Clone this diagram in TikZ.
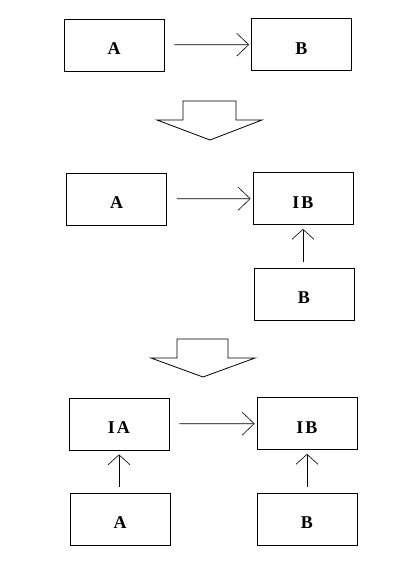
\documentclass[tikz,border=0pt]{standalone}
\usepackage{fontspec}
\setmainfont{Liberation Serif}
\usetikzlibrary{arrows.meta}

\tikzset{
box/.style={draw,line width=0.8pt,minimum width=100pt,minimum height=52pt,inner sep=0pt,
  text height=19pt,text depth=0pt,font=\fontsize{18}{20}\selectfont\bfseries},
link/.style={line width=0.7pt,-{Straight Barb[length=12pt,width=23pt,line width=0.6pt]},
  shorten <=10pt,shorten >=2pt},
uplink/.style={line width=0.7pt,-{Straight Barb[length=10pt,width=22pt,line width=0.6pt]},
  shorten <=6pt,shorten >=4pt},
bigarrow/.style={draw,line width=0.8pt}
}

\begin{document}
\begin{tikzpicture}[x=1pt,y=-1pt]
\useasboundingbox (0,0) rectangle (407,587);

% first row
\node[box] (a1) at (114,45) {A};
\node[box] (b1) at (301.5,44.5) {B};
\draw[link] (a1) -- (b1);

\draw[bigarrow] (183,120) -- (183,101) -- (236,101) -- (236,120) -- (262,120)
  -- (210,140) -- (157,120) -- cycle;

% second row
\node[box] (a2) at (116.5,199) {A};
\node[box] (ib2) at (303,198.5) {I\kern2pt B};
\node[box] (b2) at (304,294) {B};
\draw[link] (a2) -- (ib2);
\draw[uplink] (b2.north -| ib2) -- (ib2);

\draw[bigarrow] (177,358) -- (177,339) -- (228,339) -- (228,358) -- (255,358)
  -- (203,377) -- (151,358) -- cycle;

% third row
\node[box] (ia3) at (119,424) {I\kern2pt A};
\node[box] (ib3) at (307,423.5) {I\kern2pt B};
\node[box] (a3) at (120,519) {A};
\node[box] (b3) at (307,519) {B};
\draw[link] (ia3) -- (ib3);
\draw[uplink] (a3.north -| ia3) -- (ia3);
\draw[uplink] (b3) -- (ib3);
\end{tikzpicture}
\end{document}
